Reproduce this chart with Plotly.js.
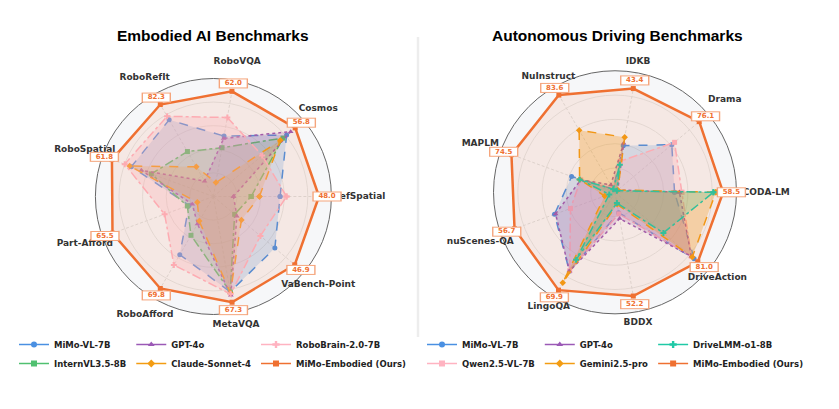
<!DOCTYPE html>
<html><head><meta charset="utf-8">
<script src="https://cdn.plot.ly/plotly-3.0.1.min.js"></script>
<style>html,body{margin:0;padding:0;background:#fff}#chart{width:839px;height:409px}</style>
</head><body><div id="chart"></div>
<script>
// ---- Embodied AI (normalized radar scores) ----
const embodiedCats = ['RefSpatial','Cosmos','RoboVQA','RoboRefIt','RoboSpatial','Part-Afford','RoboAfford','MetaVQA','VaBench-Point'];
const embMimoVL    = [0.565, 0.81, 0.52, 0.75, 0.74, 0.22, 0.57, 0.82, 0.68];
const embIntern    = [0.32, 0.77, 0.42, 0.44, 0.56, 0.235, 0.38, 0.82, 0.235];
const embGPT4o     = [0.17, 0.855, 0.50, 0.15, 0.65, 0.19, 0.27, 0.85, 0.26];
const embClaude    = [0.39, 0.74, 0.12, 0.29, 0.755, 0.145, 0.24, 0.83, 0.31];
const embRoboBrain = [0.62, 0.54, 0.68, 0.785, 0.80, 0.44, 0.67, 0.84, 0.52];
const embOurs      = [0.895, 0.905, 0.905, 0.90, 0.915, 0.91, 0.90, 0.91, 0.90];
const embOursLabels = ['48.0','56.8','62.0','82.3','61.8','65.5','69.8','67.3','46.9'];

// ---- Autonomous Driving ----
const drivingCats = ['CODA-LM','Drama','IDKB','NuInstruct','MAPLM','nuScenes-QA','LingoQA','BDDX','DriveAction'];
const adMimoVL   = [0.49, 0.61, 0.39, 0.03, 0.38, 0.53, 0.75, 0.17, 0.85];
const adQwen     = [0.55, 0.64, 0.26, 0.03, 0.30, 0.39, 0.745, 0.18, 0.82];
const adGPT4o    = [0.53, 0.03, 0.41, 0.07, 0.30, 0.52, 0.75, 0.22, 0.82];
const adGemini   = [0.83, 0.03, 0.46, 0.59, 0.31, 0.09, 0.86, 0.10, 0.83];
const adDriveLMM = [0.81, 0.02, 0.23, 0.03, 0.31, 0.05, 0.64, 0.09, 0.52];
const adOurs     = [0.89, 0.905, 0.867, 0.924, 0.907, 0.88, 0.93, 0.867, 0.89];
const adOursLabels = ['58.5','76.1','43.4','83.6','74.5','56.7','69.9','52.2','81.0'];

// category-label placement (radius, as a fraction of the outer circle)
const embLabelRadius     = [1.235, 1.16, 1.16, 1.165, 1.16, 1.16, 1.16, 1.105, 1.16];
const drivingLabelRadius = [1.245, 1.18, 1.09, 1.095, 1.18, 1.18, 1.09, 1.09, 1.10];

const C = {
  blue:'#4A90E2', green:'#50C070', purple:'#9B59B6', orange:'#F39C12',
  pink:'#FFB3C1', teal:'#20C9A6', ours:'#EF7031'
};
function rgba(hex,a){const n=parseInt(hex.slice(1),16);return `rgba(${n>>16&255},${n>>8&255},${n&255},${a})`;}

const traces = [];
function catLabels(subplot, cats, radii) {
  traces.push({type:'scatterpolar', subplot, r:radii, theta:cats, mode:'text', text:cats,
    textposition:'middle center', cliponaxis:false,
    textfont:{family:'DejaVu Sans', size:9, color:'#333', weight:'bold'},
    showlegend:false, hoverinfo:'skip'});
}
function series(subplot, legend, cats, vals, name, color, dash, symbol, group, opts={}) {
  const th = cats.concat([cats[0]]), rr = vals.concat([vals[0]]);
  traces.push({
    type:'scatterpolar', subplot, r:rr, theta:th, mode:'lines+markers', name,
    fill:'toself', fillcolor: rgba(color, opts.fa || 0.2),
    line:{color, width: opts.lw || 1.5, dash},
    marker:{symbol, size: opts.ms || 5, color},
    showlegend:false, hoverinfo:'skip'
  });
  traces.push({
    type:'scatterpolar', subplot, r:[null], theta:[cats[0]], mode:'lines+markers', name,
    line:{color, width: 1.5}, marker:{symbol, size:6, color},
    legend, legendgroup: legend+group, showlegend:true, hoverinfo:'skip'
  });
}
function labelBoxes(subplot, cats, vals, labels) {
  const rr = vals.map(v => v + 0.068);
  traces.push({type:'scatterpolar', subplot, r:rr, theta:cats, mode:'markers', cliponaxis:false,
    marker:{symbol:'line-ew-open', size:21, color:'#F5A57C', line:{width:10}},
    showlegend:false, hoverinfo:'skip'});
  traces.push({type:'scatterpolar', subplot, r:rr, theta:cats, mode:'markers', cliponaxis:false,
    marker:{symbol:'line-ew-open', size:19, color:'#ffffff', line:{width:8}},
    showlegend:false, hoverinfo:'skip'});
  traces.push({type:'scatterpolar', subplot, r:rr, theta:cats, mode:'text', text:labels, cliponaxis:false,
    textposition:'middle center',
    textfont:{family:'DejaVu Sans', size:7, color:C.ours, weight:'bold'},
    showlegend:false, hoverinfo:'skip'});
}

series('polar','legend', embodiedCats, embMimoVL, 'MiMo-VL-7B', C.blue, 'dash', 'circle', 'a');
series('polar','legend', embodiedCats, embIntern, 'InternVL3.5-8B', C.green, 'dashdot', 'square', 'a');
series('polar','legend', embodiedCats, embGPT4o, 'GPT-4o', C.purple, 'dot', 'triangle-up', 'b');
series('polar','legend', embodiedCats, embClaude, 'Claude-Sonnet-4', C.orange, 'dash', 'diamond', 'b');
series('polar','legend', embodiedCats, embRoboBrain, 'RoboBrain-2.0-7B', C.pink, 'dashdot', 'cross', 'c', {fa:0.3});
series('polar','legend', embodiedCats, embOurs, 'MiMo-Embodied (Ours)', C.ours, 'solid', 'square', 'c', {fa:0.1, lw:2.5});
catLabels('polar3', embodiedCats, embLabelRadius);
labelBoxes('polar3', embodiedCats, embOurs, embOursLabels);

series('polar2','legend2', drivingCats, adMimoVL, 'MiMo-VL-7B', C.blue, 'dash', 'circle', 'a');
series('polar2','legend2', drivingCats, adQwen, 'Qwen2.5-VL-7B', C.pink, 'dashdot', 'square', 'a', {fa:0.3});
series('polar2','legend2', drivingCats, adGPT4o, 'GPT-4o', C.purple, 'dot', 'triangle-up', 'b');
series('polar2','legend2', drivingCats, adGemini, 'Gemini2.5-pro', C.orange, 'dash', 'diamond', 'b', {fa:0.3});
series('polar2','legend2', drivingCats, adDriveLMM, 'DriveLMM-o1-8B', C.teal, 'dashdot', 'cross', 'c');
series('polar2','legend2', drivingCats, adOurs, 'MiMo-Embodied (Ours)', C.ours, 'solid', 'square', 'c', {fa:0.1, lw:2.5});
catLabels('polar4', drivingCats, drivingLabelRadius);
labelBoxes('polar4', drivingCats, adOurs, adOursLabels);

const W = 839, H = 409;
const OUTER = 1.3; // overlay polar extends beyond the visible circle for labels
function dom(cx, cy, R) {
  return {x:[(cx-R)/W,(cx+R)/W], y:[(H-cy-R)/H,(H-cy+R)/H]};
}
function polarCfg(cx, cy, R) {
  return {
    domain: dom(cx, cy, R),
    bgcolor:'#F6F7F9',
    radialaxis:{range:[0,1], tickvals:[0.2,0.4,0.6,0.8], showticklabels:false, ticks:'',
      showline:false, gridcolor:'#DEDEDE', gridwidth:0.8},
    angularaxis:{rotation:0, direction:'counterclockwise', showline:true, linecolor:'#666', linewidth:1,
      gridcolor:'#D6D6D6', gridwidth:0.8, griddash:'3px,2px', ticks:'', showticklabels:false}
  };
}
function overlayCfg(cx, cy, R) {
  return {
    domain: dom(cx, cy, R*OUTER),
    bgcolor:'rgba(0,0,0,0)',
    radialaxis:{range:[0,OUTER], visible:false},
    angularaxis:{rotation:0, direction:'counterclockwise', visible:false}
  };
}
const legFont = {family:'DejaVu Sans', size:8.5, color:'#222', weight:'bold'};
const layout = {
  width:W, height:H, margin:{l:0,r:0,t:0,b:0}, paper_bgcolor:'#fff', showlegend:true,
  polar: polarCfg(213.4, 196.5, 118),
  polar2: polarCfg(615, 192.3, 121.5),
  polar3: overlayCfg(213.4, 196.5, 118),
  polar4: overlayCfg(615, 192.3, 121.5),
  legend:{orientation:'h', x:14/W, y:1-330/H, xanchor:'left', yanchor:'top', font:legFont,
    tracegroupgap:0, bgcolor:'rgba(0,0,0,0)', itemwidth:30},
  legend2:{orientation:'h', x:422/W, y:1-330/H, xanchor:'left', yanchor:'top', font:legFont,
    tracegroupgap:0, bgcolor:'rgba(0,0,0,0)', itemwidth:30},
  annotations:[
    {text:'Embodied AI Benchmarks', x:213.4/W, y:1-36/H, xref:'paper', yref:'paper', showarrow:false,
      xanchor:'center', yanchor:'middle', font:{family:'Liberation Sans', size:15.5, color:'#000', weight:'bold'}},
    {text:'Autonomous Driving Benchmarks', x:617/W, y:1-36/H, xref:'paper', yref:'paper', showarrow:false,
      xanchor:'center', yanchor:'middle', font:{family:'Liberation Sans', size:15.5, color:'#000', weight:'bold'}}
  ],
  shapes:[{type:'line', xref:'paper', yref:'paper', x0:418/W, x1:418/W, y0:1-37/H, y1:1-337/H,
    line:{color:'#EDEDED', width:2.5}}]
};
Plotly.newPlot('chart', traces, layout, {displayModeBar:false, staticPlot:true});
</script></body></html>
